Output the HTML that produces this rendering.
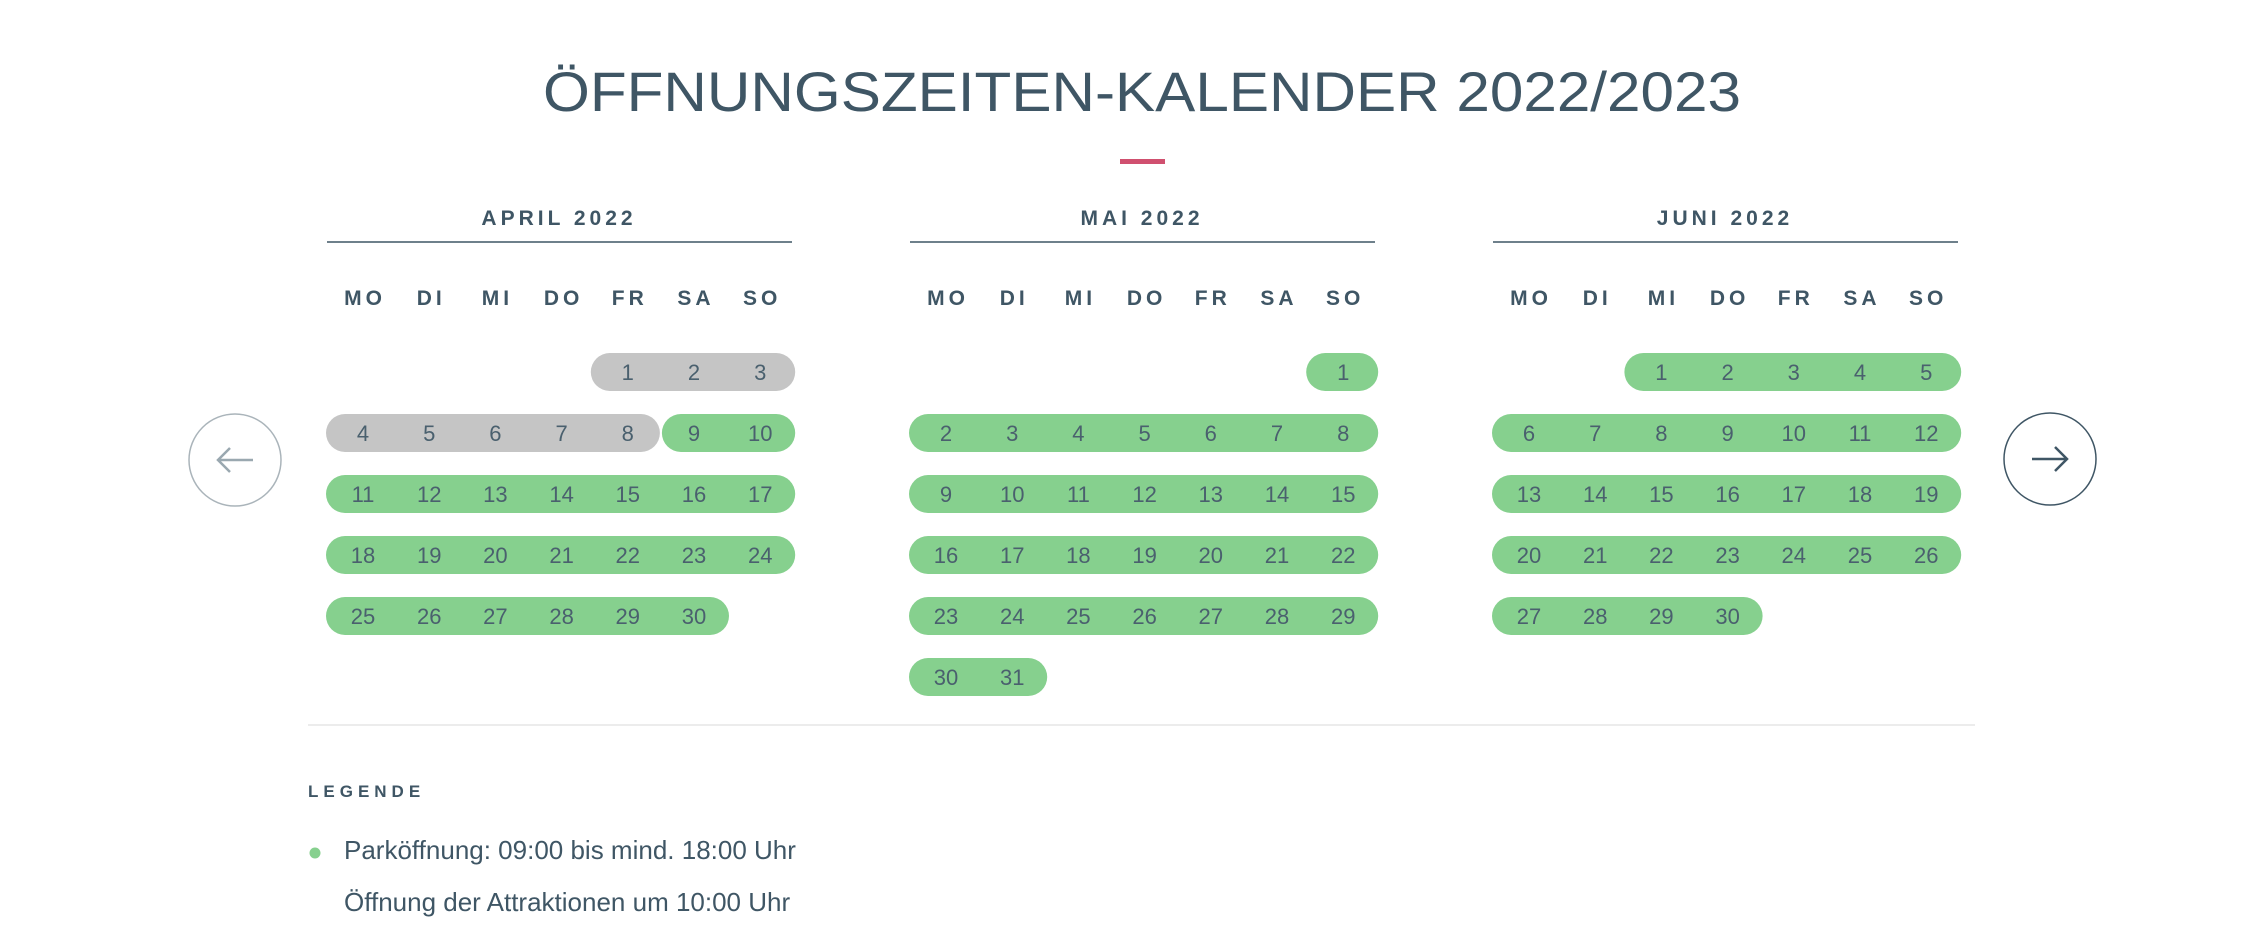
<!DOCTYPE html>
<html><head><meta charset="utf-8">
<style>
html,body{margin:0;padding:0;background:#fff;}
body{width:2266px;height:939px;position:relative;overflow:hidden;font-family:"Liberation Sans",sans-serif;color:#3f5665;}
svg{position:absolute;left:0;top:0;}
</style></head>
<body>
<svg id="cal" width="2266" height="939" viewBox="0 0 2266 939">
  <text x="543" y="111" textLength="1198" lengthAdjust="spacingAndGlyphs" font-family="Liberation Sans, sans-serif" font-size="56" fill="#3f5665">ÖFFNUNGSZEITEN-KALENDER 2022/2023</text>
  <rect x="1120" y="159" width="45" height="5" fill="#d0506f"/>
  <line x1="308" y1="725" x2="1975" y2="725" stroke="#ececec" stroke-width="2"/>
  <g>
    <circle cx="235" cy="460" r="46" fill="#fff" stroke="#aab4ba" stroke-width="1.5"/>
    <path d="M253 460 H218 M230 448 L218 460 L230 472" fill="none" stroke="#9aa8b0" stroke-width="2.5"/>
  </g>
  <g>
    <circle cx="2050" cy="459" r="46" fill="#fff" stroke="#3f5665" stroke-width="1.5"/>
    <path d="M2032 459 H2067 M2055 447 L2067 459 L2055 471" fill="none" stroke="#3f5665" stroke-width="2.5"/>
  </g>
  <text x="308" y="797" font-family="Liberation Sans, sans-serif" font-weight="bold" font-size="17" letter-spacing="5" fill="#3f5665">LEGENDE</text>
  <circle cx="315" cy="853" r="5.5" fill="#86d08e"/>
  <text x="344" y="859" font-family="Liberation Sans, sans-serif" font-size="26" fill="#3f5665">Parköffnung: 09:00 bis mind. 18:00 Uhr</text>
  <text x="344" y="911" font-family="Liberation Sans, sans-serif" font-size="26" fill="#3f5665">Öffnung der Attraktionen um 10:00 Uhr</text>
</svg>
<script>
const monthNames = ["APRIL 2022", "MAI 2022", "JUNI 2022"];
const monthStartWeekday = [4, 6, 2]; // 0 = Monday
const monthDayCount = [30, 31, 30];
const closedDays = [[1,2,3,4,5,6,7,8], [], []];
const weekdayLabels = ["MO","DI","MI","DO","FR","SA","SO"];

const NS = "http://www.w3.org/2000/svg";
const svg = document.getElementById("cal");
const monthX = m => 327 + m * 583;
const colX = (m, c) => monthX(m) + 36 + c * 66.2;
const rowY = r => 372 + r * 61;
function mk(tag, attrs, parent) {
  const el = document.createElementNS(NS, tag);
  for (const k in attrs) el.setAttribute(k, attrs[k]);
  (parent || svg).appendChild(el);
  return el;
}
for (let m = 0; m < monthNames.length; m++) {
  const g = mk("g", {});
  
  
  const t = mk("text", {x: monthX(m) + 232, y: 225, "text-anchor": "middle", "font-size": 21, "font-weight": "bold", "letter-spacing": 4, fill: "#3f5665", "font-family": "Liberation Sans, sans-serif"}, g);
  t.textContent = monthNames[m];
  
  
  const ln = mk("line", {x1: monthX(m), x2: monthX(m) + 465, y1: 242, y2: 242, stroke: "#3f5665", "stroke-width": 1.5}, g);
  
  
  for (let c = 0; c < 7; c++) {
    const w = mk("text", {x: colX(m, c) + 2, y: 305, "text-anchor": "middle", "font-size": 21, "font-weight": "bold", "letter-spacing": 4, fill: "#3f5665", "font-family": "Liberation Sans, sans-serif"}, g);
    w.textContent = weekdayLabels[c];
    
    
  }
  // build segments
  const cells = [];
  for (let d = 1; d <= monthDayCount[m]; d++) {
    const idx = monthStartWeekday[m] + d - 1;
    cells.push({d, r: Math.floor(idx / 7), c: idx % 7, closed: closedDays[m].includes(d)});
  }
  const segs = [];
  cells.forEach(cell => {
    const last = segs[segs.length - 1];
    if (last && last.r === cell.r && last.closed === cell.closed) last.c2 = cell.c;
    else segs.push({r: cell.r, c1: cell.c, c2: cell.c, closed: cell.closed});
  });
  segs.forEach((s, i) => {
    const prev = segs[i - 1], next = segs[i + 1];
    let x1 = colX(m, s.c1) - 37, x2 = colX(m, s.c2) + 35;
    if (prev && prev.r === s.r) x1 = (colX(m, s.c1) + colX(m, prev.c2)) / 2 + 1;
    if (next && next.r === s.r) x2 = (colX(m, s.c2) + colX(m, next.c1)) / 2 - 1;
    const p = mk("rect", {x: x1, y: rowY(s.r) - 19, width: x2 - x1, height: 38, rx: 19, fill: s.closed ? "#c5c5c5" : "#86d08e"}, g);
    
    
  });
  cells.forEach(cell => {
    const t2 = mk("text", {x: colX(m, cell.c), y: rowY(cell.r) + 8, "text-anchor": "middle", "font-size": 22, fill: "#4a606e", "font-family": "Liberation Sans, sans-serif"}, g);
    t2.textContent = cell.d;
    
    
  });
}
</script>
</body></html>
